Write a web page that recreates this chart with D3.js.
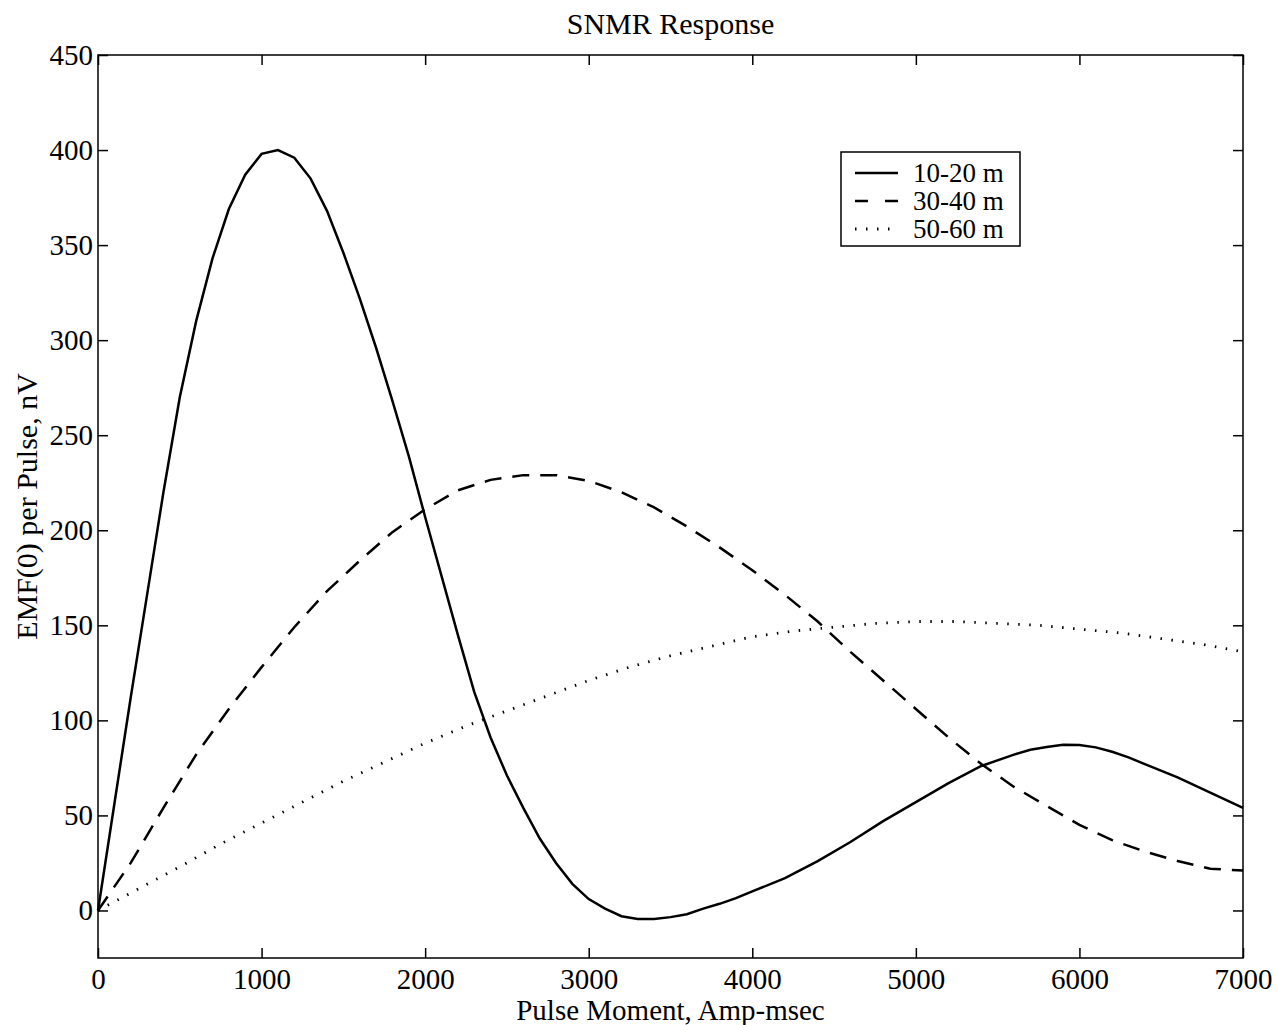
<!DOCTYPE html>
<html>
<head>
<meta charset="utf-8">
<script src="https://cdn.jsdelivr.net/npm/d3@7"></script>
<style>
  body { margin: 0; background: #fff; }
  svg text { font-family: "Liberation Serif", "Times New Roman", serif; fill: #000; }
</style>
</head>
<body>
<svg id="drawing_region"></svg>
<script>
// pulse moment (Amp-msec) and EMF(0) values (nV)
const x1020 = [0,100,200,300,400,500,600,700,800,900,1000,1100,1200,1300,1400,1500,1600,1700,1800,1900,
               2000,2100,2200,2300,2400,2500,2600,2700,2800,2900,3000,3100,3200,3300,3400,3500,3600,3700,3800,3900,
               4000,4200,4400,4600,4800,5000,5200,5400,5600,5700,5800,5900,6000,6100,6200,6300,6400,6600,6800,7000];
const y1020 = [0,56,112,166,220,270,310,343,369,387,398,400,396,385,368,346,322,296,268,239,
               207,176,145,115,91,71,54,38,25,14,6,1,-3,-4.5,-4.5,-3.5,-2,1,3.5,6.5,
               10,17,26,36,47,57,67,76,82,84.5,86,87.2,87,85.8,83.5,80.5,77,70,62,54];

const x3040 = [0,200,400,600,800,1000,1200,1400,1600,1800,2000,2200,2400,2600,2800,3000,3200,3400,
               3600,3800,4000,4200,4400,4600,4800,5000,5200,5400,5600,5800,6000,6200,6400,6600,6800,7000];
const y3040 = [0,25,54,82,106,128,149,168,184,199,211,221,226.5,229,229,226,220,212,
               202,191,179,166,152,136,121,106,91,77,65,55,45,37,31,26,22,21];

const x5060 = [0,250,500,750,1000,1250,1500,1750,2000,2250,2500,2750,3000,3250,3500,3750,4000,
               4250,4500,4750,5000,5250,5500,5750,6000,6250,6500,6750,7000];
const y5060 = [0,11.5,23,35,46,57,68,78,88,97,105,113,121,128,134,139,144,
               147,149,151,152,152,151,150,148,146,143,140,136];

const seriesNames = ['10-20 m', '30-40 m', '50-60 m'];
const xTicks = [0,1000,2000,3000,4000,5000,6000,7000];
const yTicks = [0,50,100,150,200,250,300,350,400,450];

const config = {
    width: 1278,
    height: 1025,
    margin: {top: 55, right: 35, bottom: 67, left: 98}
};

const svg = d3.select('#drawing_region')
    .attr('width', config.width)
    .attr('height', config.height);

const innerW = config.width - config.margin.left - config.margin.right;
const innerH = config.height - config.margin.top - config.margin.bottom;

const chart = svg.append('g')
    .attr('transform', `translate(${config.margin.left}, ${config.margin.top})`);

const xScale = d3.scaleLinear().domain([0, 7000]).range([0, innerW]);
const yScale = d3.scaleLinear().domain([-25, 450]).range([innerH, 0]);

// axes, ticks pointing inward on all four sides
chart.append('g')
    .attr('transform', `translate(0, ${innerH})`)
    .call(d3.axisBottom(xScale).tickValues(xTicks).tickSize(-10).tickSizeOuter(0).tickPadding(10).tickFormat(d3.format('d')));
chart.append('g')
    .call(d3.axisLeft(yScale).tickValues(yTicks).tickSize(-10).tickSizeOuter(0).tickPadding(5));
chart.append('g')
    .call(d3.axisTop(xScale).tickValues(xTicks).tickSize(-10).tickSizeOuter(0).tickFormat(''));
chart.append('g')
    .attr('transform', `translate(${innerW}, 0)`)
    .call(d3.axisRight(yScale).tickValues(yTicks).tickSize(-10).tickSizeOuter(0).tickFormat(''));

chart.selectAll('.domain').remove();
chart.selectAll('.tick line').attr('stroke', '#000').attr('stroke-width', 1.5);
chart.selectAll('.tick text').attr('font-size', '29px').attr('font-family', '"Liberation Serif", serif');

chart.append('rect')
    .attr('width', innerW)
    .attr('height', innerH)
    .attr('fill', 'none')
    .attr('stroke', '#000')
    .attr('stroke-width', 1.5);

// lines
const line = d3.line()
    .x(d => xScale(d[0]))
    .y(d => yScale(d[1]));

const styles = [
    {dash: null, width: 2.5},
    {dash: '17,11', width: 2.5},
    {dash: '1.5,9.5', width: 2.8}
];

const series = [
    d3.zip(x1020, y1020),
    d3.zip(x3040, y3040),
    d3.zip(x5060, y5060)
];

series.forEach((s, i) => {
    chart.append('path')
        .datum(s)
        .attr('d', line)
        .attr('fill', 'none')
        .attr('stroke', '#000')
        .attr('stroke-width', styles[i].width)
        .attr('stroke-dasharray', styles[i].dash);
});

// legend
const legend = svg.append('g')
    .attr('transform', 'translate(841, 152)');

legend.append('rect')
    .attr('width', 179)
    .attr('height', 94)
    .attr('fill', '#fff')
    .attr('stroke', '#000')
    .attr('stroke-width', 1.5);

seriesNames.forEach((name, i) => {
    const yy = 21 + i * 28;
    legend.append('line')
        .attr('x1', 14).attr('x2', 57)
        .attr('y1', yy).attr('y2', yy)
        .attr('stroke', '#000')
        .attr('stroke-width', styles[i].width)
        .attr('stroke-dasharray', i === 1 ? '13,17' : styles[i].dash);
    legend.append('text')
        .attr('x', 72)
        .attr('y', yy + 9)
        .attr('font-size', '27px')
        .text(name);
});

// titles
svg.append('text')
    .attr('x', config.margin.left + innerW / 2)
    .attr('y', 34)
    .attr('text-anchor', 'middle')
    .attr('font-size', '30px')
    .text('SNMR Response');

svg.append('text')
    .attr('x', config.margin.left + innerW / 2)
    .attr('y', 1020)
    .attr('text-anchor', 'middle')
    .attr('font-size', '29px')
    .text('Pulse Moment, Amp-msec');

svg.append('text')
    .attr('transform', `translate(37, ${config.margin.top + innerH / 2}) rotate(-90)`)
    .attr('text-anchor', 'middle')
    .attr('font-size', '30px')
    .text('EMF(0) per Pulse, nV');
</script>
</body>
</html>
